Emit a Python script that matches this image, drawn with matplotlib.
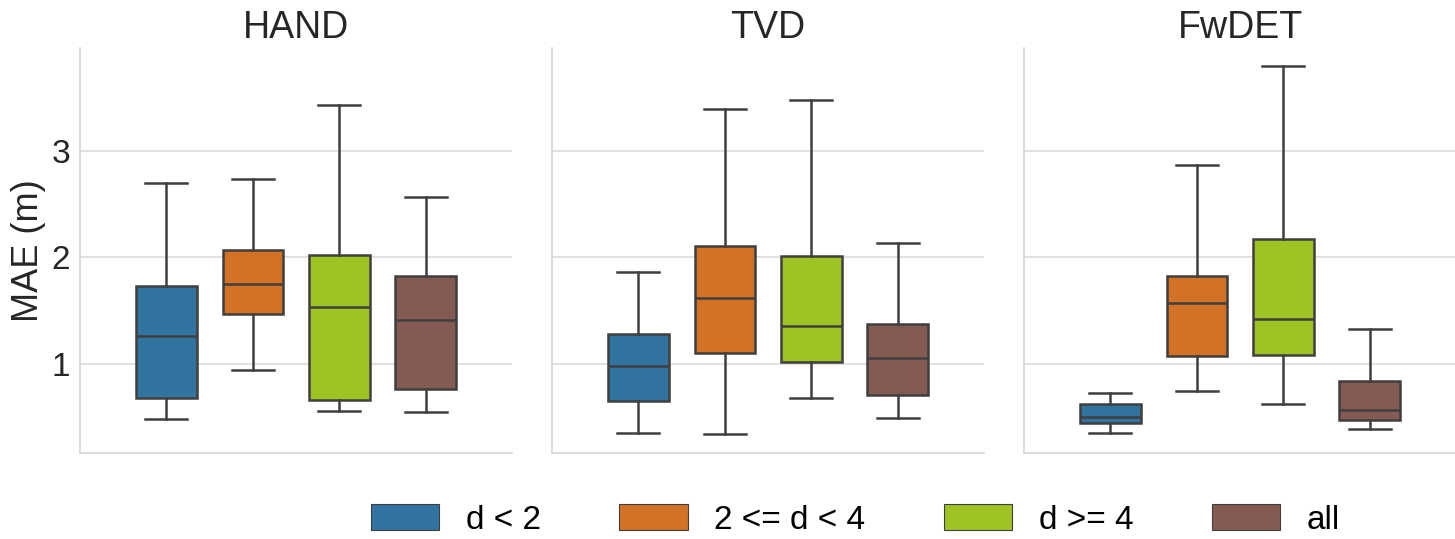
import matplotlib.pyplot as plt
from matplotlib.patches import Patch

plt.rcParams["font.family"] = ["Liberation Sans", "DejaVu Sans"]

MODELS = ["HAND", "TVD", "FwDET"]
GROUPS = ["d < 2", "2 <= d < 4", "d >= 4", "all"]
COLORS = ["#3274a1", "#d37224", "#9dc422", "#845b53"]

# box stats per model, one value per group
WHIS_LO = {
    "HAND": [0.48, 0.94, 0.56, 0.55],
    "TVD": [0.35, 0.34, 0.675, 0.49],
    "FwDET": [0.353, 0.74, 0.62, 0.39],
}
Q1 = {
    "HAND": [0.68, 1.47, 0.66, 0.76],
    "TVD": [0.65, 1.10, 1.015, 0.71],
    "FwDET": [0.44, 1.075, 1.08, 0.475],
}
MEDIAN = {
    "HAND": [1.256, 1.75, 1.53, 1.41],
    "TVD": [0.98, 1.62, 1.35, 1.05],
    "FwDET": [0.50, 1.57, 1.42, 0.57],
}
Q3 = {
    "HAND": [1.73, 2.07, 2.02, 1.82],
    "TVD": [1.28, 2.10, 2.01, 1.37],
    "FwDET": [0.625, 1.82, 2.17, 0.84],
}
WHIS_HI = {
    "HAND": [2.70, 2.73, 3.43, 2.56],
    "TVD": [1.86, 3.39, 3.47, 2.13],
    "FwDET": [0.73, 2.86, 3.79, 1.33],
}

LINE = "#3f3f3f"
SPINE = "#d5d5d5"

fig = plt.figure(figsize=(14.55, 5.39), dpi=100)
lefts = [0.055, 0.3794, 0.7038]
axes = []
for i, left in enumerate(lefts):
    ax = fig.add_axes([left, 0.1596, 0.297, 0.751],
                      sharey=axes[0] if axes else None)
    axes.append(ax)

positions = [-0.3, -0.1, 0.1, 0.3]
for i, (ax, model) in enumerate(zip(axes, MODELS)):
    stats = []
    for j in range(len(GROUPS)):
        stats.append({
            "whislo": WHIS_LO[model][j],
            "q1": Q1[model][j],
            "med": MEDIAN[model][j],
            "q3": Q3[model][j],
            "whishi": WHIS_HI[model][j],
            "fliers": [],
        })
    bp = ax.bxp(stats, positions=positions, widths=0.14, capwidths=0.097,
                patch_artist=True, showfliers=False,
                boxprops=dict(edgecolor=LINE, linewidth=1.8),
                medianprops=dict(color=LINE, linewidth=1.8),
                whiskerprops=dict(color=LINE, linewidth=1.8),
                capprops=dict(color=LINE, linewidth=1.8))
    for patch, c in zip(bp["boxes"], COLORS):
        patch.set_facecolor(c)

    ax.set_xlim(-0.5, 0.5)
    ax.set_xticks([])
    ax.set_title(model, fontsize=27, color="#262626", pad=7)
    ax.yaxis.grid(True, color="#dcdcdc", linewidth=1.2)
    ax.set_axisbelow(True)
    for side in ["top", "right"]:
        ax.spines[side].set_visible(False)
    for side in ["left", "bottom"]:
        ax.spines[side].set_color(SPINE)
        ax.spines[side].set_linewidth(1.2)
    ax.tick_params(axis="y", length=0, labelsize=24, labelcolor="#262626", pad=7)
    if i > 0:
        ax.tick_params(axis="y", labelleft=False)

axes[0].set_ylim(0.163, 3.96)
axes[0].set_yticks([1, 2, 3])
axes[0].set_ylabel("MAE (m)", fontsize=26, color="#262626", labelpad=4)

handles = [Patch(facecolor=c, edgecolor=LINE, linewidth=0.8, label=g)
           for c, g in zip(COLORS, GROUPS)]
fig.legend(handles=handles, loc="center", bbox_to_anchor=(0.588, 0.035),
           ncol=4, frameon=False, fontsize=24, handlelength=2.05,
           handleheight=0.8, handletextpad=0.8, columnspacing=2.35)

fig.savefig("out.png", dpi=100)
